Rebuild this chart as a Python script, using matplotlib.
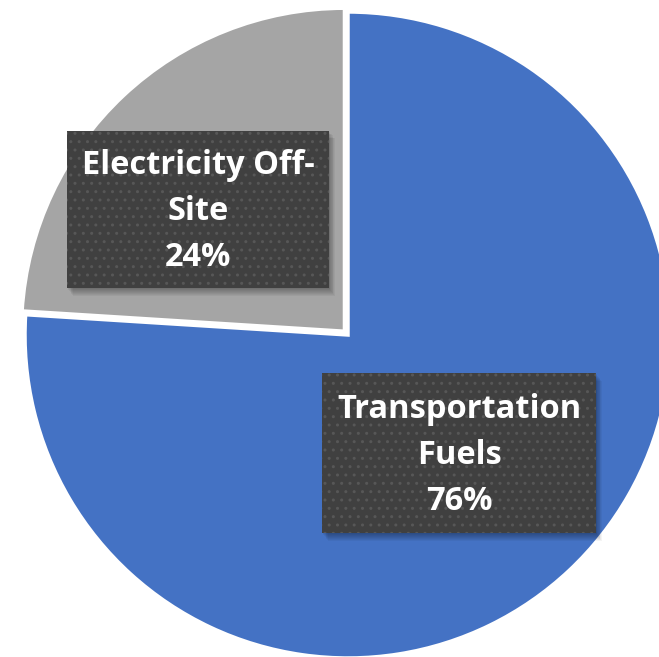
import matplotlib.pyplot as plt
from matplotlib.patches import Rectangle

labels = ['Electricity Off-\nSite', 'Transportation\nFuels']
shares = [24, 76]
colors = ['#A5A5A5', '#4472C4']
explode = [0.016, 0]

W, H = 659, 657
R = 323            # pie radius in pixels
cx, cy = 348, 335  # pie centre in pixels, from top-left

# label boxes: centre and size in pixels
box_centres = [(198, 209), (459, 453)]
box_sizes = [(262, 157), (274, 160)]

plt.rcParams['font.family'] = ['Open Sans', 'DejaVu Sans']

fig = plt.figure(figsize=(W / 100, H / 100), dpi=100)
ax = fig.add_axes([0, 0, 1, 1])
wedges, _ = ax.pie(shares, colors=colors, startangle=90, counterclock=True,
                   explode=explode,
                   wedgeprops=dict(edgecolor='white', linewidth=2.5))
ax.set_xlim(-cx / R, (W - cx) / R)
ax.set_ylim(-(H - cy) / R, cy / R)


def to_data(px, py):
    return (px - cx) / R, (cy - py) / R


for lab, val, (bx, by), (bw, bh) in zip(labels, shares, box_centres, box_sizes):
    x0, y0 = to_data(bx - bw / 2, by + bh / 2)
    w, h = bw / R, bh / R
    # soft shadow
    for k in range(1, 9):
        ax.add_patch(Rectangle((x0 + k * 0.7 / R, y0 - k * 1.0 / R), w, h,
                               facecolor='black', edgecolor='none',
                               alpha=0.045, zorder=3))
    ax.add_patch(Rectangle((x0, y0), w, h, facecolor='#404040',
                           edgecolor='#575757', linewidth=0, hatch='..',
                           zorder=4))
    tx, ty = to_data(bx, by + 3)
    ax.text(tx, ty, f'{lab}\n{val}%', color='white', fontsize=23.5,
            fontweight='bold', ha='center', va='center', linespacing=1.52,
            zorder=5)

fig.savefig('out.png', dpi=100)
